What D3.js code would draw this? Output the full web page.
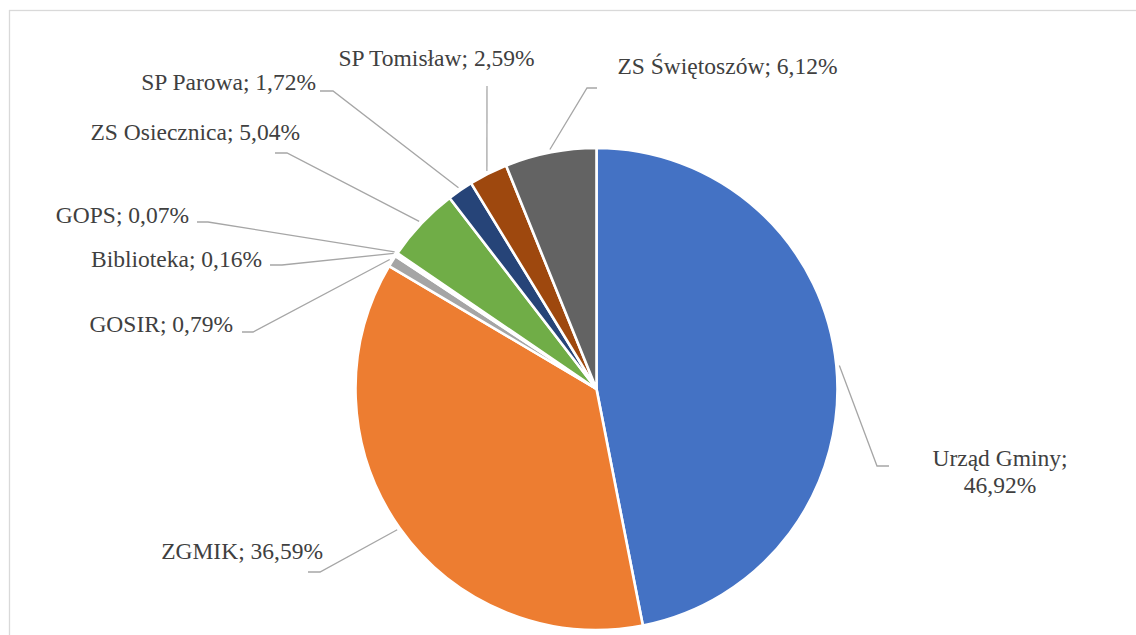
<!DOCTYPE html>
<html>
<head>
<meta charset="utf-8">
<script src="https://cdn.jsdelivr.net/npm/d3@7"></script>
<style>
    body { margin: 0; background: #fff; }
    svg { display: block; }
    .lbl { font-family: "Liberation Serif", "Times New Roman", "DejaVu Serif", serif; font-size: 23.5px; fill: #404040; }
    .leader { fill: none; stroke: #a6a6a6; stroke-width: 1.3; }
</style>
</head>
<body>
<div id="chart"></div>
<script>
// data, clockwise from 12 o'clock
const categories = ["Urząd Gminy", "ZGMIK", "GOSIR", "Biblioteka", "GOPS",
    "ZS Osiecznica", "SP Parowa", "SP Tomisław", "ZS Świętoszów"];
const shares = [46.92, 36.59, 0.79, 0.16, 0.07, 5.04, 1.72, 2.59, 6.12];
const labelText = ["46,92%", "36,59%", "0,79%", "0,16%", "0,07%", "5,04%", "1,72%", "2,59%", "6,12%"];
const colors = ["#4472c4", "#ed7d31", "#a5a5a5", "#ffc000", "#5b9bd5",
    "#70ad47", "#264478", "#9e480e", "#636363"];

// where each label sits: text anchor, elbow of leader line, end of short horizontal piece
const labelLayout = [
    {tx: 1000, ty: 466, anchor: "middle", ex: 877, ey: 466, hx: 889, wrap: true},
    {tx: 323, ty: 559, anchor: "end", ex: 320, ey: 572, hx: 308},
    {tx: 233, ty: 332, anchor: "end", ex: 253, ey: 332, hx: 242},
    {tx: 262, ty: 267, anchor: "end", ex: 282, ey: 265, hx: 270},
    {tx: 189, ty: 223, anchor: "end", ex: 208, ey: 222, hx: 197},
    {tx: 300, ty: 140, anchor: "end", ex: 287, ey: 153, hx: 275},
    {tx: 316, ty: 90, anchor: "end", ex: 333, ey: 91, hx: 320},
    {tx: 436.5, ty: 66, anchor: "middle", ex: 487, ey: 86, hx: 487},
    {tx: 727.5, ty: 74, anchor: "middle", ex: 587, ey: 88, hx: 597}
];

const W = 1136, H = 635;
const cx = 596.5, cy = 389, radius = 241;

const svg = d3.select("#chart").append("svg")
    .attr("width", W)
    .attr("height", H);

// chart area border, runs off the right and bottom edge
svg.append("rect")
    .attr("x", 9.5).attr("y", 10.5)
    .attr("width", W + 20).attr("height", H + 20)
    .attr("fill", "#fff")
    .attr("stroke", "#d9d9d9")
    .attr("stroke-width", 1.3);

let rows = categories.map(function(c, i) {
    return {name: c, value: shares[i], text: labelText[i], color: colors[i], layout: labelLayout[i]};
});

let pie = d3.pie()
    .sort(null)
    .value(d => d.value);

let arc = d3.arc()
    .innerRadius(0)
    .outerRadius(radius);

let edge = d3.arc()
    .innerRadius(radius + 3)
    .outerRadius(radius + 3);

let arcs = pie(rows);

let g = svg.append("g")
    .attr("transform", "translate(" + cx + "," + cy + ")");

g.selectAll("path.slice")
    .data(arcs)
    .enter().append("path")
    .attr("class", "slice")
    .attr("d", arc)
    .attr("fill", d => d.data.color)
    .attr("stroke", "#fff")
    .attr("stroke-width", 2.6)
    .attr("stroke-linejoin", "round");

// leader lines
svg.selectAll("polyline.leader")
    .data(arcs)
    .enter().append("polyline")
    .attr("class", "leader")
    .attr("points", function(d) {
        let p = edge.centroid(d);
        let L = d.data.layout;
        return [[cx + p[0], cy + p[1]], [L.ex, L.ey], [L.hx, L.ey]].map(q => q.join(",")).join(" ");
    });

// labels
svg.selectAll("text.lbl")
    .data(arcs)
    .enter().append("text")
    .attr("class", "lbl")
    .attr("font-family", "Liberation Serif, serif")
    .attr("x", d => d.data.layout.tx)
    .attr("y", d => d.data.layout.ty)
    .attr("text-anchor", d => d.data.layout.anchor)
    .each(function(d) {
        let t = d3.select(this);
        let L = d.data.layout;
        if (L.wrap) {
            t.append("tspan").attr("x", L.tx).text(d.data.name + ";");
            t.append("tspan").attr("x", L.tx).attr("dy", 27).text(d.data.text);
        } else {
            t.text(d.data.name + "; " + d.data.text);
        }
    });
</script>
</body>
</html>
